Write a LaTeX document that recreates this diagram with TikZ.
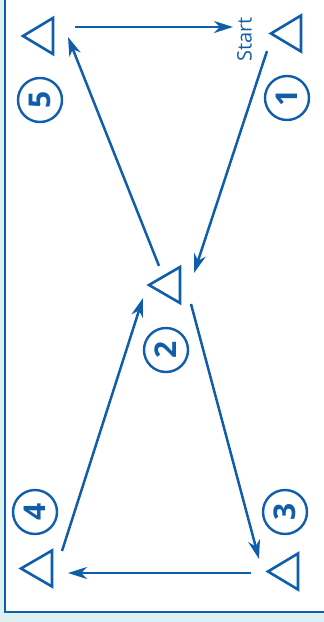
\documentclass[tikz,border=0pt]{standalone}
\usepackage{fontspec}
\setmainfont{Open Sans}
\usetikzlibrary{arrows.meta}
\definecolor{fblue}{RGB}{16,94,170}
\definecolor{bgcyan}{RGB}{222,240,241}
\tikzset{
  tri/.style={draw=fblue, line width=2.6pt, line join=miter},
  num/.style={circle, draw=fblue, line width=2.4pt, minimum size=44pt, inner sep=0pt,
    text=fblue, font=\fontsize{30}{30}\selectfont\bfseries, rotate=90},
  conn/.style={draw=fblue, line width=2.5pt,
    -{Stealth[length=19pt,width=12pt,inset=6pt]}},
  lbl/.style={text=fblue, font=\fontsize{20}{20}\selectfont, rotate=90, inner sep=0pt}
}
\begin{document}
\begin{tikzpicture}[x=1pt,y=-1pt]
\useasboundingbox (0,0) rectangle (324,622);
\clip (0,0) rectangle (324,622);
\fill[bgcyan] (0,0) rectangle (324,622);
\fill[white] (5,-10) rectangle (334,612);
\draw[fblue, line width=2.6pt] (5,-10) -- (5,612) -- (334,612);
% triangles
\draw[tri] (23,36) -- (53,18) -- (53,54) -- cycle;
\draw[tri] (271,33.5) -- (301,15.5) -- (301,51.5) -- cycle;
\draw[tri] (149,285) -- (180,267) -- (180,303) -- cycle;
\draw[tri] (21,568.5) -- (52,550.5) -- (52,586.5) -- cycle;
\draw[tri] (268,571.5) -- (298,553.5) -- (298,589.5) -- cycle;
% number circles
\node[num] (n5) at (40,100) {5};
\node[num] (n1) at (287,98) {1};
\node[num] (n2) at (166,350) {2};
\node[num] (n4) at (35,512) {4};
\node[num] (n3) at (285,512) {3};
\node[lbl] (start) at (244.5,39.5) {Start};
% connector end points
\coordinate (a5s) at (75,27);
\coordinate (a1e) at (233,27);
\coordinate (a1s) at (267,51);
\coordinate (a2e) at (194,273);
\coordinate (a2s) at (159,266);
\coordinate (a5e) at (68,37);
\coordinate (b2s) at (191,304);
\coordinate (a3e) at (259,559);
\coordinate (a3s) at (251,573);
\coordinate (a4e) at (68,573);
\coordinate (a4s) at (62,551);
\coordinate (b2e) at (143,298);
\draw[conn] (a5s) -- (a1e);
\draw[conn] (a1s) -- (a2e);
\draw[conn] (a2s) -- (a5e);
\draw[conn] (b2s) -- (a3e);
\draw[conn] (a3s) -- (a4e);
\draw[conn] (a4s) -- (b2e);
\end{tikzpicture}
\end{document}
